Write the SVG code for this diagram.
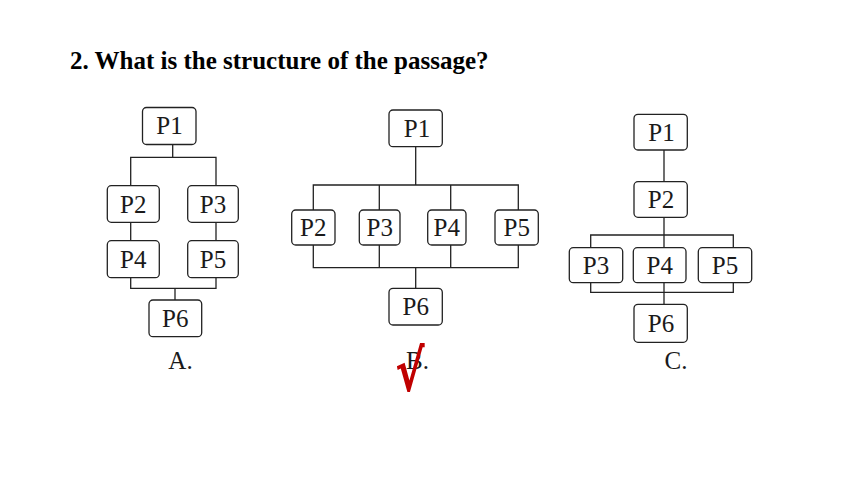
<svg xmlns="http://www.w3.org/2000/svg" width="860" height="484" viewBox="0 0 860 484">
<style>
.box rect{fill:#fff;stroke:#222;stroke-width:1.3}
.box text,.lbl{font-family:"Liberation Serif","Times New Roman",serif;font-size:25px;fill:#1a1a1a;text-anchor:middle}
.title{font-family:"Liberation Serif","Times New Roman",serif;font-size:25px;font-weight:bold;fill:#000}
#connectors path{fill:none;stroke:#222;stroke-width:1.3}
.check{font-family:"DejaVu Sans",sans-serif;font-size:44px;font-weight:bold;fill:#c00000;text-anchor:middle}
</style>
<rect width="860" height="484" fill="#fff"/>
<text class="title" x="70" y="69">2. What is the structure of the passage?</text>

<g id="connectors">
  <!-- A -->
  <path d="M172.7 144.3V157.3M130.7 185.7V157.3H216V185.7M130.7 222.3V240.7M216 222.3V240.7M130.7 277.7V288.3H216V277.7M175 288.3V300"/>
  <!-- B -->
  <path d="M415.7 146.7V185M313.3 210V185H518.3V210M379.3 185V210M450.7 185V210M313.3 245V267.7H518.3V245M379.3 245V267.7M450.7 245V267.7M415.7 267.7V288.3"/>
  <!-- C -->
  <path d="M664 150V181.7M664 217.3V247.7M590.7 247.7V235H733.3V247.7M590.7 282.7V292.3H733.3V282.7M664 282.7V304.3"/>
</g>

<!-- Diagram A -->
<g id="A-P1" class="box"><rect x="142.5" y="107.5" width="53.5" height="37" rx="4"/><text x="169.5" y="134">P1</text></g>
<g id="A-P2" class="box"><rect x="107.3" y="185.7" width="52" height="36.6" rx="4"/><text x="133.3" y="212.5">P2</text></g>
<g id="A-P3" class="box"><rect x="187.7" y="185.7" width="50.6" height="36.6" rx="4"/><text x="213" y="212.5">P3</text></g>
<g id="A-P4" class="box"><rect x="107.3" y="240.7" width="52" height="37" rx="4"/><text x="133.3" y="267.5">P4</text></g>
<g id="A-P5" class="box"><rect x="187.7" y="240.7" width="50.6" height="37" rx="4"/><text x="213" y="267.5">P5</text></g>
<g id="A-P6" class="box"><rect x="149" y="300" width="52.7" height="36.7" rx="4"/><text x="175.3" y="327">P6</text></g>
<text class="lbl" x="180.5" y="369">A.</text>

<!-- Diagram B -->
<g id="B-P1" class="box"><rect x="389" y="110" width="53.3" height="36.7" rx="4"/><text x="417" y="137">P1</text></g>
<g id="B-P2" class="box"><rect x="291.7" y="210" width="43.3" height="35" rx="4"/><text x="313.3" y="236">P2</text></g>
<g id="B-P3" class="box"><rect x="359.3" y="210" width="40.7" height="35" rx="4"/><text x="379.7" y="236">P3</text></g>
<g id="B-P4" class="box"><rect x="427.7" y="210" width="38.3" height="35" rx="4"/><text x="446.8" y="236">P4</text></g>
<g id="B-P5" class="box"><rect x="495" y="210" width="43.3" height="35" rx="4"/><text x="516.7" y="236">P5</text></g>
<g id="B-P6" class="box"><rect x="389" y="288.3" width="53.3" height="36.7" rx="4"/><text x="415.7" y="315">P6</text></g>
<text class="lbl" x="417.5" y="369">B.</text>
<text class="check" transform="translate(410 391) scale(1 1.3)">√</text>

<!-- Diagram C -->
<g id="C-P1" class="box"><rect x="634" y="114.3" width="53.3" height="35.7" rx="4"/><text x="661.5" y="140.5">P1</text></g>
<g id="C-P2" class="box"><rect x="634" y="181.7" width="53.3" height="35.6" rx="4"/><text x="661" y="208">P2</text></g>
<g id="C-P3" class="box"><rect x="569.3" y="247.7" width="53.4" height="35" rx="4"/><text x="596" y="274">P3</text></g>
<g id="C-P4" class="box"><rect x="633.3" y="247.7" width="52.7" height="35" rx="4"/><text x="659.7" y="274">P4</text></g>
<g id="C-P5" class="box"><rect x="698.3" y="247.7" width="53.4" height="35" rx="4"/><text x="725" y="274">P5</text></g>
<g id="C-P6" class="box"><rect x="634" y="304.3" width="53.3" height="38" rx="4"/><text x="661" y="331.5">P6</text></g>
<text class="lbl" x="676" y="369">C.</text>
</svg>
